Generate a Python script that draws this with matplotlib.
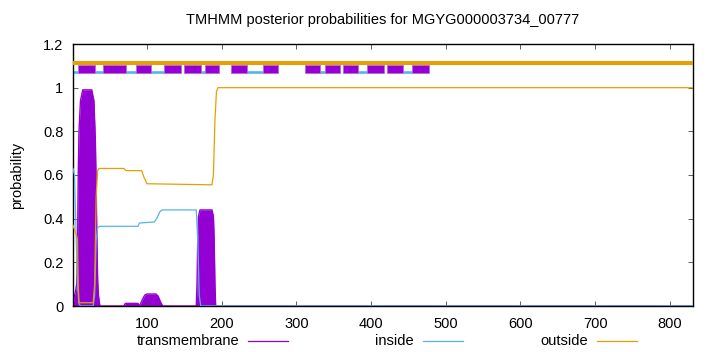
import matplotlib
matplotlib.use("Agg")
import matplotlib.pyplot as plt
from matplotlib.lines import Line2D
from matplotlib.patches import Rectangle

plt.rcParams["font.family"] = ["Liberation Sans", "DejaVu Sans"]

TITLE = "TMHMM posterior probabilities for MGYG000003734_00777"
SEQ_LEN = 831

# posterior probabilities (residue, probability)
tm_pos = [1, 3, 4, 6, 7, 8, 9, 11, 14, 26, 29, 31, 32, 33, 34, 35, 37,
          69, 71, 88, 90, 94, 97, 100, 112, 115, 118, 121,
          166, 167, 168, 169, 171, 187, 189, 190, 191, 192, 831]
tm_prob = [0.0, 0.05, 0.06, 0.1, 0.25, 0.6, 0.8, 0.94, 0.99, 0.99, 0.94, 0.75, 0.55, 0.3, 0.12, 0.05, 0.0,
           0.0, 0.012, 0.012, 0.0, 0.03, 0.05, 0.055, 0.055, 0.045, 0.02, 0.0,
           0.0, 0.1, 0.3, 0.41, 0.44, 0.44, 0.41, 0.3, 0.1, 0.0, 0.0]

in_pos = [1, 3, 5, 7, 9, 11, 28, 30, 32, 34, 37, 88, 90, 110, 113, 117, 120,
          166, 168, 170, 172, 831]
in_prob = [0.63, 0.6, 0.35, 0.1, 0.01, 0.0, 0.0, 0.05, 0.3, 0.36, 0.365, 0.365, 0.38, 0.385, 0.40, 0.43, 0.44,
           0.44, 0.3, 0.05, 0.0, 0.0]

out_pos = [1, 3, 6, 7, 8, 9, 28, 30, 31, 32, 34, 36, 69, 72, 93, 96, 100,
           187, 189, 191, 193, 195, 831]
out_prob = [0.37, 0.35, 0.32, 0.3, 0.1, 0.015, 0.015, 0.1, 0.3, 0.5, 0.62, 0.63, 0.63, 0.62, 0.62, 0.59, 0.56,
            0.555, 0.6, 0.85, 0.98, 1.0, 1.0]

# predicted topology strip at the top
helices = [(8, 30), (41, 72), (85, 106), (123, 145), (150, 172), (178, 197), (213, 234),
           (255, 276), (311, 332), (339, 358), (363, 382), (395, 417), (422, 443), (455, 477)]
inside_segs = [(1, 8), (30, 42), (72, 123), (172, 178), (234, 255), (332, 339), (382, 395), (443, 455)]
outside_segs = [(1, SEQ_LEN)]

xticks = [100, 200, 300, 400, 500, 600, 700, 800]
yticks = [0, 0.2, 0.4, 0.6, 0.8, 1, 1.2]
ytick_labels = ["0", "0.2", "0.4", "0.6", "0.8", "1", "1.2"]

C_TM, C_IN, C_OUT = "#9400d3", "#56b4e9", "#e69f00"
FS = 10.5

fig = plt.figure(figsize=(7.2, 3.52), dpi=100)
W, H = 720.0, 352.0
ax = fig.add_axes([73 / W, 1 - 306 / H, (693 - 73) / W, (306 - 44) / H])

ax.fill_between(tm_pos, tm_prob, 0, color=C_TM, lw=0, zorder=1)
ax.plot(tm_pos, tm_prob, color=C_TM, lw=1.0, solid_joinstyle="round", solid_capstyle="round", zorder=1)
ax.plot(in_pos, in_prob, color=C_IN, lw=0.9, zorder=3)
ax.plot(out_pos, out_prob, color=C_OUT, lw=0.9, zorder=3)

for a, b in inside_segs:
    ax.plot([a, b], [1.0705, 1.0705], color=C_IN, lw=1.9, solid_capstyle="butt", zorder=2)
for a, b in helices:
    ax.add_patch(Rectangle((a, 1.066), b - a, 0.038, facecolor=C_TM, edgecolor="#b766e0",
                           lw=0.6, zorder=3))
for a, b in outside_segs:
    ax.plot([a, b], [1.111, 1.111], color=C_OUT, lw=2.9, solid_capstyle="butt", zorder=4)

ax.set_xlim(1, SEQ_LEN)
ax.set_ylim(0, 1.2)
ax.set_xticks(xticks)
ax.set_xticklabels([str(t) for t in xticks], fontsize=FS)
ax.set_yticks(yticks)
ax.set_yticklabels(ytick_labels, fontsize=FS)
ax.tick_params(direction="in", top=True, right=True, length=3.5, width=0.6, color="#444444")
ax.tick_params(axis="x", pad=8)
ax.tick_params(axis="y", pad=7)
for s in ax.spines.values():
    s.set_linewidth(1.0)
    s.set_zorder(2.5)

fig.text(383 / W, 1 - 20 / H, TITLE, ha="center", va="center", fontsize=FS)
fig.text(17 / W, 1 - 175 / H, "probability", ha="center", va="center", rotation=90, fontsize=FS)

# legend row under the axis
ly = 1 - 341 / H
for label, color, txt_right, x0, x1 in [("transmembrane", C_TM, 239, 248, 288),
                                         ("inside", C_IN, 414, 423, 463),
                                         ("outside", C_OUT, 588, 597, 637)]:
    fig.text(txt_right / W, ly, label, ha="right", va="center", fontsize=FS)
    fig.add_artist(Line2D([x0 / W, x1 / W], [ly, ly], color=color, lw=0.9))

fig.savefig("out.png", dpi=100)
